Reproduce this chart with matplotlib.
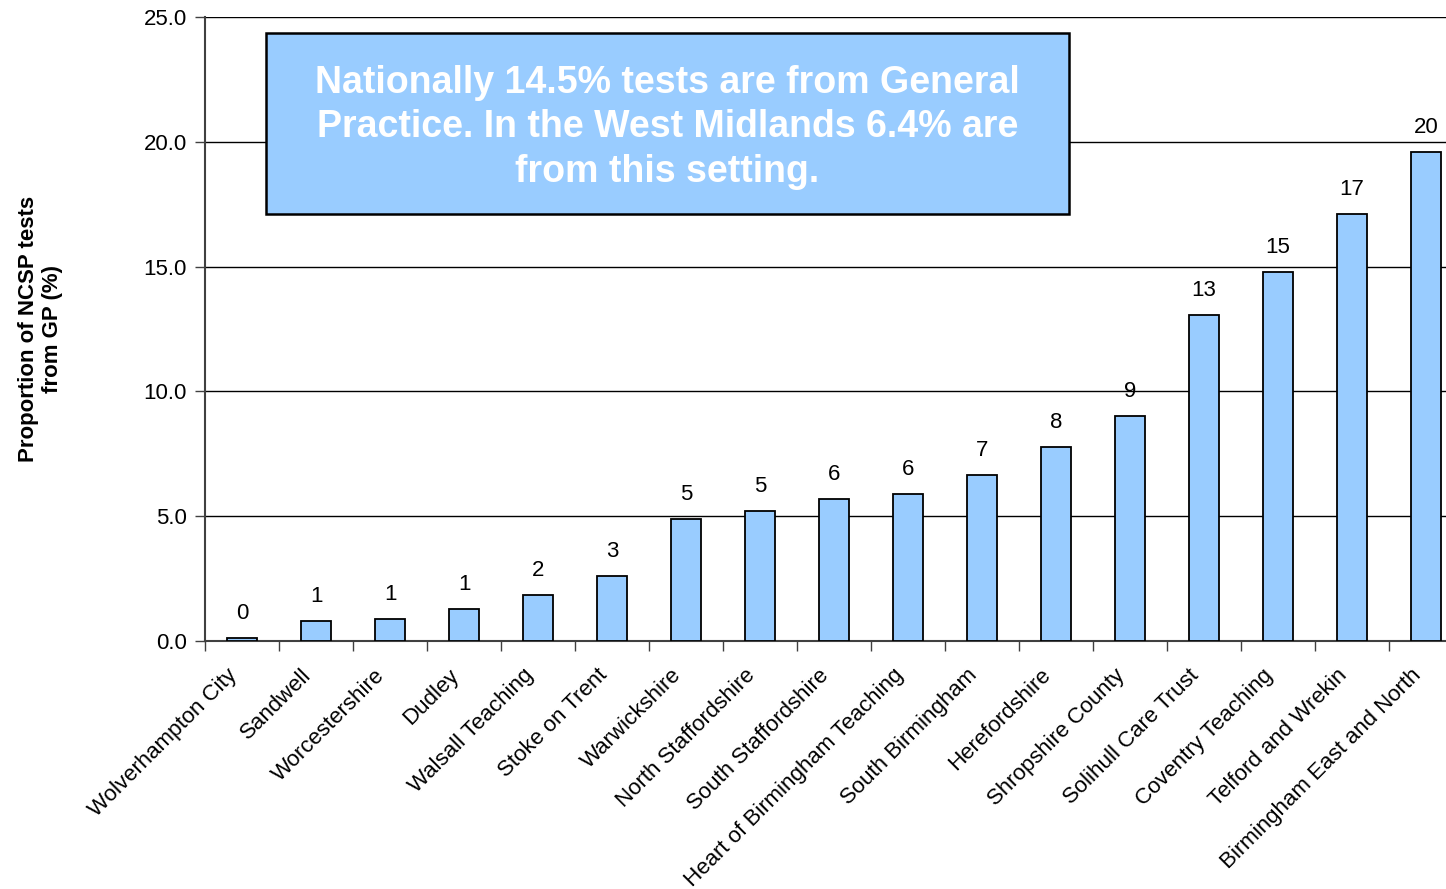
import matplotlib.pyplot as plt
from matplotlib.patches import Rectangle

plt.rcParams['font.family'] = ['Liberation Sans', 'DejaVu Sans']

areas = ['Wolverhampton City', 'Sandwell', 'Worcestershire', 'Dudley',
         'Walsall Teaching', 'Stoke on Trent', 'Warwickshire',
         'North Staffordshire', 'South Staffordshire',
         'Heart of Birmingham Teaching', 'South Birmingham', 'Herefordshire',
         'Shropshire County', 'Solihull Care Trust', 'Coventry Teaching',
         'Telford and Wrekin', 'Birmingham East and North']
gp_share = [0.12, 0.80, 0.88, 1.28, 1.84, 2.60, 4.89, 5.21, 5.69, 5.89,
            6.65, 7.77, 9.01, 13.06, 14.78, 17.10, 19.60]
y_ticks = [0, 5, 10, 15, 20, 25]

note = ('Nationally 14.5% tests are from General\n'
        'Practice. In the West Midlands 6.4% are\n'
        'from this setting.')

fig = plt.figure(figsize=(14.46, 8.89), dpi=100)
ax = fig.add_axes([0.1418, 0.2790, 0.8700, 0.7019])

x = range(len(areas))
bars = ax.bar(x, gp_share, width=0.4, color='#99CCFF', edgecolor='black',
              linewidth=1.3, zorder=3)

for xi, v in zip(x, gp_share):
    ax.annotate(f'{v:.0f}', (xi, v), xytext=(0, 10), textcoords='offset points',
                ha='center', va='bottom', fontsize=16)

ax.set_xlim(-0.5, len(areas) - 0.5)
ax.set_ylim(0, 25)
ax.set_yticks(y_ticks)
ax.set_yticklabels([f'{t:.1f}' for t in y_ticks], fontsize=16)
ax.set_xticks([i - 0.5 for i in x])
ax.set_xticklabels([])
for xi, name in zip(x, areas):
    ax.text(xi - 0.21, -0.95, name, rotation=45, ha='right', va='top',
            rotation_mode='anchor', fontsize=16, transform=ax.transData)

ax.yaxis.grid(True, color='black', linewidth=1, zorder=0)
ax.set_axisbelow(True)
ax.tick_params(axis='both', direction='out', length=7, width=1, colors='#404040')
ax.tick_params(axis='y', labelcolor='black', pad=6)
for side in ['top', 'right']:
    ax.spines[side].set_visible(False)
ax.spines['left'].set_color('#404040')
ax.spines['left'].set_linewidth(1.5)
ax.spines['bottom'].set_color('#404040')
ax.spines['bottom'].set_linewidth(1.5)

fig.text(0.028, 0.63, 'Proportion of NCSP tests\nfrom GP (%)', rotation=90,
         ha='center', va='center', fontsize=16, fontweight='bold',
         multialignment='center')

ax.add_patch(Rectangle((0.0485, 0.6843), 0.6383, 0.2901, transform=ax.transAxes,
                       facecolor='#99CCFF', edgecolor='black', linewidth=1.8,
                       zorder=5))
ax.text(0.3677, 0.823, note, transform=ax.transAxes, ha='center', va='center',
        color='white', fontsize=27, fontweight='bold', linespacing=1.3,
        zorder=6)

fig.savefig('out.png', dpi=100)
